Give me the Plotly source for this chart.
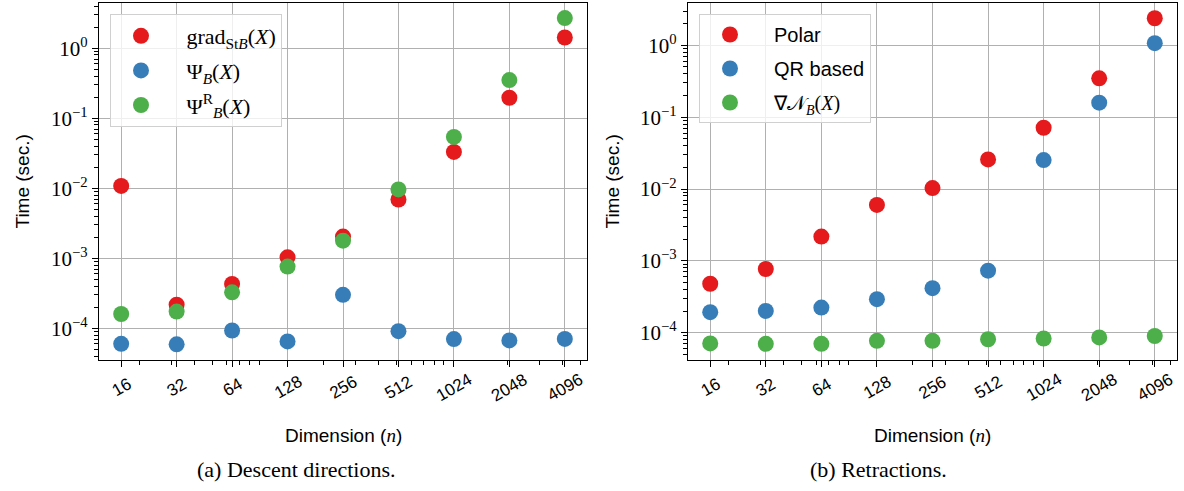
import numpy as np
import plotly.graph_objects as go

# ---------------- data ----------------
dims = [16, 32, 64, 128, 256, 512, 1024, 2048, 4096]
dim_labels = ["16", "32", "64", "128", "256", "512", "1024", "2048", "4096"]

# (a) Descent directions
grad_st = [0.0108, 2.17e-4, 4.3e-4, 1.03e-3, 2.04e-3, 6.9e-3, 0.033, 0.196, 1.42]
psi_b = [6.0e-5, 5.9e-5, 9.3e-5, 6.5e-5, 3.0e-4, 9.1e-5, 7.0e-5, 6.7e-5, 7.05e-5]
psi_b_r = [1.6e-4, 1.73e-4, 3.26e-4, 7.6e-4, 1.78e-3, 9.6e-3, 0.054, 0.35, 2.69]

# (b) Retractions
polar = [4.8e-4, 7.7e-4, 2.18e-3, 6.0e-3, 0.0103, 0.0258, 0.0712, 0.347, 2.38]
qr_based = [1.93e-4, 2.01e-4, 2.24e-4, 2.93e-4, 4.17e-4, 7.3e-4, 0.0253, 0.159, 1.07]
nabla_n = [7.1e-5, 7.0e-5, 7.0e-5, 7.7e-5, 7.7e-5, 8.1e-5, 8.3e-5, 8.6e-5, 9.0e-5]

ytick_vals = [1e-4, 1e-3, 1e-2, 1e-1, 1]
ytick_text = ["10<sup>−4</sup>", "10<sup>−3</sup>", "10<sup>−2</sup>", "10<sup>−1</sup>", "10<sup>0</sup>"]

RED, BLUE, GREEN = "#e41a1c", "#377eb8", "#4daf4a"
SERIF = "Liberation Serif"
SANS = "Liberation Sans"
W, H = 1184, 491
PAD = "\u2002\u2009"

def py(y):
    return 1 - y / H

def px(x):
    return x / W

fig = go.Figure()

def add(x, y, name, color, xa, ya, legend, group):
    fig.add_trace(go.Scatter(
        x=x, y=y, mode="markers", name=PAD + name,
        marker=dict(color=color, size=16, line=dict(width=0)),
        xaxis=xa, yaxis=ya, legend=legend, legendgroup=group,
    ))

add(dims, grad_st, "grad<sub>St<i>B</i></sub>(<i>X</i>)", RED, "x", "y", "legend", "a1")
add(dims, psi_b, "Ψ<sub><i>B</i></sub>(<i>X</i>)", BLUE, "x", "y", "legend", "a2")
add(dims, psi_b_r, "Ψ<sup>R</sup><sub><i>B</i></sub>(<i>X</i>)", GREEN, "x", "y", "legend", "a3")

add(dims, polar, "<span style='font-family:Liberation Sans'>Polar</span>", RED, "x2", "y2", "legend2", "b1")
add(dims, qr_based, "<span style='font-family:Liberation Sans'>QR based</span>", BLUE, "x2", "y2", "legend2", "b2")
add(dims, nabla_n, "∇𝒩<sub><i>B</i></sub>(<i>X</i>)", GREEN, "x2", "y2", "legend2", "b3")

# minor ticks (base-10 log minor positions)
x_minor = [m * 10 ** k for k in range(1, 4) for m in range(2, 10)]
y_minor = [m * 10.0 ** k for k in range(-5, 1) for m in range(2, 10)]

xr = [np.log10(16) - 0.1204, np.log10(4096) + 0.1204]

common_x = dict(
    type="log", range=xr, tickmode="array", tickvals=dims, ticktext=dim_labels,
    showticklabels=False, ticks="outside", ticklen=6, tickwidth=1.2, tickcolor="black",
    showgrid=True, gridcolor="#b0b0b0", gridwidth=1.2,
    showline=True, mirror=True, linecolor="black", linewidth=1.3, zeroline=False,
    minor=dict(tickmode="array", tickvals=x_minor, ticks="outside", ticklen=3.5,
               tickwidth=1, tickcolor="black", showgrid=False),
)
common_y = dict(
    type="log", tickmode="array", tickvals=ytick_vals, ticktext=ytick_text,
    ticks="outside", ticklen=6, tickwidth=1.2, tickcolor="black",
    tickfont=dict(family=SERIF, size=21, color="black"),
    showgrid=True, gridcolor="#b0b0b0", gridwidth=1.2,
    showline=True, mirror=True, linecolor="black", linewidth=1.3, zeroline=False,
    minor=dict(tickmode="array", tickvals=y_minor, ticks="outside", ticklen=3.5,
               tickwidth=1, tickcolor="black", showgrid=False),
)

top, bottom = py(3), py(360)

legend_style = dict(xanchor="left", yanchor="top",
                    bgcolor="rgba(255,255,255,0.8)", bordercolor="#d0d0d0", borderwidth=1,
                    itemwidth=50)

fig.update_layout(
    width=W, height=H, margin=dict(l=0, r=0, t=0, b=0),
    paper_bgcolor="white", plot_bgcolor="white",
    xaxis=dict(common_x, domain=[px(99), px(587)], anchor="y"),
    yaxis=dict(common_y, domain=[bottom, top], range=[-4.453, 0.645], anchor="x"),
    xaxis2=dict(common_x, domain=[px(688), px(1177)], anchor="y2"),
    yaxis2=dict(common_y, domain=[bottom, top], range=[-4.38, 0.589], anchor="x2"),
    legend=dict(legend_style, x=px(110), y=py(14), tracegroupgap=3,
                font=dict(family=SERIF, size=22, color="black")),
    legend2=dict(legend_style, x=px(699), y=py(14), tracegroupgap=5,
                 font=dict(family=SERIF, size=20, color="black")),
    showlegend=True,
)

ann = []
# rotated x tick labels centred under each tick
for xa in ["x", "x2"]:
    for d, lab in zip(dims, dim_labels):
        ann.append(dict(x=np.log10(d), y=py(387), xref=xa, yref="paper", text=lab,
                        showarrow=False, textangle=-30, xanchor="center", yanchor="middle",
                        font=dict(family=SANS, size=17, color="black")))

# axis titles
for cx in [343, 932.5]:
    ann.append(dict(x=px(cx), y=py(435), xref="paper", yref="paper",
                    text="Dimension (<span style='font-family:Liberation Serif'><i>n</i></span>)",
                    showarrow=False, xanchor="center", yanchor="middle",
                    font=dict(family=SANS, size=19, color="black")))
for cx in [22, 612]:
    ann.append(dict(x=px(cx), y=py(181.5), xref="paper", yref="paper", text="Time (sec.)",
                    showarrow=False, textangle=-90, xanchor="center", yanchor="middle",
                    font=dict(family=SANS, size=19, color="black")))

# captions
ann.append(dict(x=px(296), y=py(469), xref="paper", yref="paper", text="(a) Descent directions.",
                showarrow=False, xanchor="center", yanchor="middle",
                font=dict(family=SERIF, size=22, color="black")))
ann.append(dict(x=px(878), y=py(469), xref="paper", yref="paper", text="(b) Retractions.",
                showarrow=False, xanchor="center", yanchor="middle",
                font=dict(family=SERIF, size=22, color="black")))

fig.update_layout(annotations=ann)

fig.write_html("out.html")
